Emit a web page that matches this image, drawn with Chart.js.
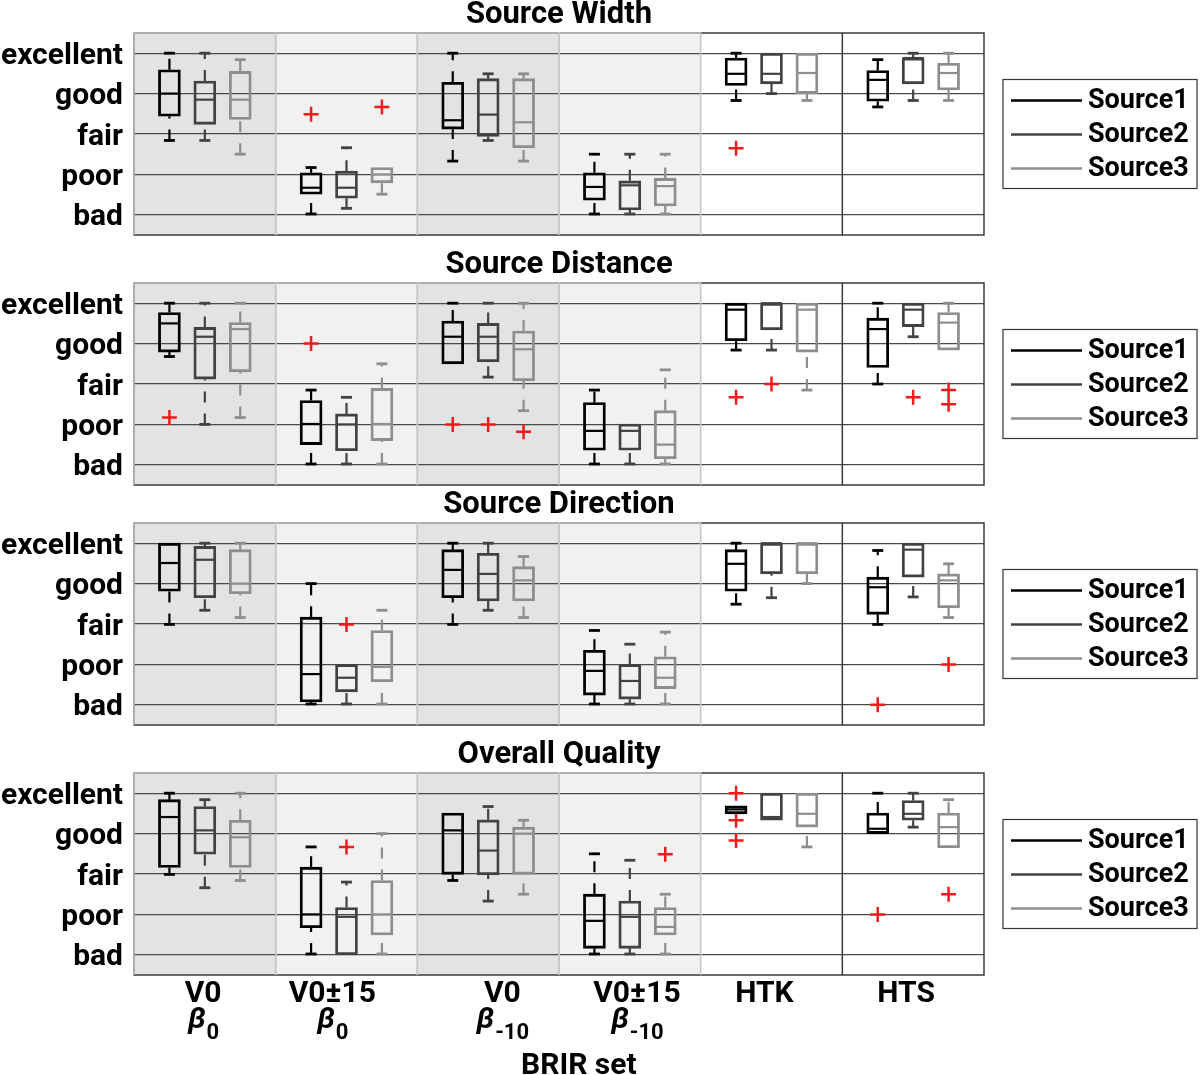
<!DOCTYPE html>
<html>
<head>
<meta charset="utf-8">
<script src="https://cdn.jsdelivr.net/npm/chart.js@4.4.0/dist/chart.umd.min.js"></script>
<style>
  html, body { margin: 0; padding: 0; background: #fff; }
  body { position: relative; width: 1200px; height: 1075px; overflow: hidden; }
  canvas { position: absolute; left: 0; }
</style>
</head>
<body>
<canvas id="c0" width="1200" height="239" style="top:0px"></canvas>
<canvas id="c1" width="1200" height="239" style="top:250px"></canvas>
<canvas id="c2" width="1200" height="239" style="top:490px"></canvas>
<canvas id="c3" width="1200" height="335" style="top:740px"></canvas>
<script>
const ratings = ['bad', 'poor', 'fair', 'good', 'excellent'];
const sources = ['Source1', 'Source2', 'Source3'];
const brirSets = ['V0', 'V0\u00b115', 'V0', 'V0\u00b115', 'HTK', 'HTS'];
const betaSubs = ['0', '0', '-10', '-10', '', ''];
const brirTicks = [1.95, 5.6, 10.4, 14.2, 17.8, 21.8];
const titles = ['Source Width', 'Source Distance', 'Source Direction', 'Overall Quality'];

// each row: [min, q1, median, q3, max] for one BRIR set
const widthS1 = [[2.84, 3.44, 4.0, 4.59, 5.0], [1.02, 1.51, 1.67, 2.04, 2.17], [2.33, 3.12, 3.34, 4.28, 5.0],
                 [1.02, 1.36, 1.69, 2.04, 2.5], [3.83, 4.20, 4.49, 4.88, 5.0], [3.67, 3.81, 4.34, 4.57, 4.84]];
const widthS2 = [[2.84, 3.24, 3.85, 4.31, 5.0], [1.16, 1.41, 1.67, 2.08, 2.66], [2.84, 2.94, 3.48, 4.37, 4.49],
                 [1.02, 1.12, 1.73, 1.84, 2.5], [4.0, 4.24, 4.49, 5.0, 5.0], [3.83, 4.24, 4.88, 4.88, 5.0]];
const widthS3 = [[2.5, 3.36, 3.85, 4.55, 4.84], [1.51, 1.79, 2.0, 2.17, 2.17], [2.33, 2.66, 3.29, 4.37, 4.49],
                 [1.02, 1.22, 1.71, 1.90, 2.5], [3.83, 4.0, 4.51, 5.0, 5.0], [3.83, 4.09, 4.51, 4.75, 5.0]];
// outliers: [BRIR set, source, value]
const widthOut = [[1, 0, 3.49], [1, 2, 3.67], [4, 0, 2.65]];

const distS1 = [[3.68, 3.79, 4.50, 4.77, 5.0], [1.02, 1.50, 2.01, 2.59, 2.85], [3.50, 3.50, 4.17, 4.56, 5.0],
                [1.02, 1.36, 1.84, 2.54, 2.85], [3.84, 4.07, 4.84, 5.0, 5.0], [3.0, 3.41, 4.36, 4.63, 5.0]];
const distS2 = [[2.0, 3.12, 4.17, 4.40, 5.0], [1.02, 1.35, 2.0, 2.26, 2.67], [3.17, 3.55, 4.17, 4.50, 5.0],
                [1.02, 1.36, 1.84, 2.01, 2.01], [3.84, 4.34, 5.0, 5.0, 5.0], [4.17, 4.42, 4.84, 5.0, 5.0]];
const distS3 = [[2.17, 3.30, 4.36, 4.52, 5.0], [1.02, 1.60, 2.01, 2.89, 3.50], [2.34, 3.08, 3.86, 4.31, 5.0],
                [1.02, 1.15, 1.50, 2.34, 3.35], [2.85, 3.79, 4.84, 5.0, 5.0], [3.84, 3.84, 4.52, 4.77, 5.0]];
const distOut = [[0, 0, 2.17], [1, 0, 4.0], [2, 0, 2.0], [2, 1, 2.0], [2, 2, 1.82],
                 [4, 0, 2.67], [4, 1, 3.0], [5, 1, 2.67], [5, 2, 2.85], [5, 2, 2.5]];

const dirS1 = [[2.99, 3.81, 4.51, 5.0, 5.0], [1.02, 1.07, 1.76, 3.17, 4.0], [2.99, 3.65, 4.34, 4.84, 5.0],
               [1.02, 1.24, 1.84, 2.35, 2.84], [3.49, 3.81, 4.49, 4.84, 5.0], [2.99, 3.24, 3.91, 4.16, 4.82]];
const dirS2 = [[3.34, 3.65, 4.59, 4.92, 5.0], [1.02, 1.32, 1.67, 2.0, 2.0], [3.34, 3.57, 4.24, 4.75, 5.0],
               [1.02, 1.14, 1.59, 2.0, 2.5], [3.65, 4.24, 5.0, 5.0, 5.0], [3.67, 4.16, 4.84, 5.0, 5.0]];
const dirS3 = [[3.16, 3.75, 4.0, 4.84, 5.0], [1.02, 1.57, 1.94, 2.84, 3.34], [3.16, 3.57, 4.08, 4.42, 4.67],
               [1.02, 1.40, 1.67, 2.19, 2.80], [4.0, 4.24, 5.0, 5.0, 5.0], [3.16, 3.40, 4.08, 4.24, 4.49]];
const dirOut = [[1, 1, 2.99], [5, 0, 1.0], [5, 2, 2.0]];

const qualS1 = [[2.99, 3.16, 4.41, 4.84, 5.0], [1.02, 1.67, 2.0, 3.17, 3.67], [2.84, 2.99, 4.08, 4.51, 4.51],
                [1.02, 1.16, 1.84, 2.50, 3.50], [4.49, 4.49, 4.6, 4.69, 4.69], [4.0, 4.0, 4.12, 4.51, 5.0]];
const qualS2 = [[2.66, 3.49, 4.08, 4.67, 4.84], [1.0, 1.0, 1.94, 2.17, 2.80], [2.33, 2.98, 3.58, 4.34, 4.67],
                [1.02, 1.16, 1.94, 2.33, 3.34], [4.33, 4.33, 4.41, 5.0, 5.0], [4.16, 4.33, 4.49, 4.82, 5.0]];
const qualS3 = [[2.84, 3.16, 3.91, 4.33, 5.0], [1.02, 1.49, 2.0, 2.84, 4.0], [2.5, 2.99, 4.0, 4.16, 4.33],
                [1.02, 1.49, 1.69, 2.17, 2.5], [3.67, 4.16, 4.49, 5.0, 5.0], [3.65, 3.65, 4.16, 4.51, 4.84]];
const qualOut = [[1, 1, 3.67], [3, 2, 3.49], [4, 0, 5.0], [4, 0, 4.33], [4, 0, 3.83], [5, 0, 2.0], [5, 2, 2.5]];

const srcColors = ['#000000', '#424242', '#8e8e8e'];
const FONT = 'Roboto';

// x position of a box: 4 units per BRIR set, sources at 1,2,3
const boxX = (g, s) => g * 4 + 1 + s;

function boxDatasets(stats, outliers) {
  const sets = [];
  stats.forEach((rows, s) => {
    const col = srcColors[s];
    sets.push({
      type: 'bar', label: sources[s],
      data: rows.map((r, g) => ({ x: boxX(g, s), y: [r[1], r[3]] })),
      backgroundColor: 'rgba(0,0,0,0)', borderColor: col, borderWidth: 2.2,
      borderSkipped: false, barThickness: 22, grouped: false
    });
    // whiskers, drawn from the lower value up (dash phase like the original)
    const w = [];
    const caps = [];
    rows.forEach((r, g) => {
      const x = boxX(g, s);
      if (r[4] > r[3]) { w.push({ x, y: r[3] }, { x, y: r[4] }, { x, y: null }); caps.push({ x, y: r[4] }); }
      if (r[1] > r[0]) { w.push({ x, y: r[0] }, { x, y: r[1] }, { x, y: null }); caps.push({ x, y: r[0] }); }
    });
    sets.push({
      type: 'line', data: w, borderColor: col, borderWidth: 2.2, borderDash: [11, 11],
      pointRadius: 0, spanGaps: false, fill: false
    });
    sets.push({
      type: 'scatter', data: caps, pointStyle: 'line', pointRadius: 5.5,
      borderColor: col, pointBorderColor: col, pointBorderWidth: 2.8
    });
    sets.push({
      type: 'scatter', data: rows.map((r, g) => ({ x: boxX(g, s), y: r[2] })),
      pointStyle: 'line', pointRadius: 10.5, borderColor: col, pointBorderColor: col, pointBorderWidth: 2.2
    });
  });
  sets.push({
    type: 'scatter', data: outliers.map(o => ({ x: boxX(o[0], o[1]), y: o[2] })),
    pointStyle: 'cross', pointRadius: 7.5, borderColor: '#f21b1b', pointBorderColor: '#f21b1b', pointBorderWidth: 2.5
  });
  return sets;
}

const panelBg = {
  id: 'panelBg',
  beforeDraw(chart) {
    const { ctx, chartArea: a, scales: { x } } = chart;
    ctx.save();
    ['#e4e3e3', '#f2f1f1', '#e4e3e3', '#f2f1f1'].forEach((c, g) => {
      const l = x.getPixelForValue(g * 4), r = x.getPixelForValue(g * 4 + 4);
      ctx.fillStyle = c;
      ctx.fillRect(l, a.top, r - l, a.bottom - a.top);
    });
    ctx.restore();
  },
  beforeDatasetsDraw(chart) {
    const { ctx, chartArea: a, scales: { x } } = chart;
    ctx.save();
    ctx.strokeStyle = '#3a3a3a';
    ctx.lineWidth = 1.5;
    ctx.strokeRect(a.left, a.top, a.right - a.left, a.bottom - a.top);
    // light edges of the shaded patches
    ctx.strokeStyle = '#c6c6c6';
    for (let g = 0; g < 4; g++) {
      const l = x.getPixelForValue(g * 4), r = x.getPixelForValue(g * 4 + 4);
      ctx.beginPath();
      ctx.moveTo(l, a.bottom);
      ctx.lineTo(l, a.top);
      ctx.lineTo(r, a.top);
      ctx.lineTo(r, a.bottom);
      ctx.stroke();
    }
    // HTK | HTS separator
    const sx = x.getPixelForValue(20);
    ctx.strokeStyle = '#3a3a3a';
    ctx.beginPath();
    ctx.moveTo(sx, a.top);
    ctx.lineTo(sx, a.bottom);
    ctx.stroke();
    ctx.restore();
  }
};

const legendBox = {
  id: 'legendBox',
  afterDraw(chart) {
    const { ctx, chartArea: a } = chart;
    const w = 194, h = 109;
    const left = a.right + 19, top = (a.top + a.bottom) / 2 - h / 2;
    ctx.save();
    ctx.fillStyle = '#fff';
    ctx.fillRect(left, top, w, h);
    ctx.strokeStyle = '#333';
    ctx.lineWidth = 1.2;
    ctx.strokeRect(left, top, w, h);
    sources.forEach((s, i) => {
      const y = top + 21 + i * 34;
      ctx.strokeStyle = srcColors[i];
      ctx.lineWidth = 2.5;
      ctx.beginPath();
      ctx.moveTo(left + 8, y);
      ctx.lineTo(left + 79, y);
      ctx.stroke();
      ctx.fillStyle = '#000';
      ctx.font = 'bold 27px ' + FONT;
      ctx.textBaseline = 'middle';
      ctx.textAlign = 'left';
      ctx.fillText(s, left + 85, y + 1);
    });
    ctx.restore();
  }
};

const xLabels = {
  id: 'xLabels',
  afterDraw(chart) {
    const { ctx, chartArea: a, scales: { x } } = chart;
    ctx.save();
    ctx.fillStyle = '#000';
    ctx.textBaseline = 'middle';
    brirSets.forEach((t, i) => {
      const cx = x.getPixelForValue(brirTicks[i]);
      ctx.font = 'bold 30px ' + FONT;
      ctx.textAlign = 'center';
      ctx.fillText(t, cx, a.bottom + 19);
      if (betaSubs[i]) {
        ctx.font = 'italic bold 30px ' + FONT;
        const bw = ctx.measureText('\u03b2').width;
        ctx.font = 'bold 22px ' + FONT;
        const sw = ctx.measureText(betaSubs[i]).width;
        const x0 = cx - (bw + sw) / 2;
        ctx.textAlign = 'left';
        ctx.font = 'italic bold 30px ' + FONT;
        ctx.fillText('\u03b2', x0, a.bottom + 45);
        ctx.font = 'bold 22px ' + FONT;
        ctx.fillText(betaSubs[i], x0 + bw + 1, a.bottom + 58);
      }
    });
    ctx.font = 'bold 30px ' + FONT;
    ctx.textAlign = 'center';
    ctx.fillText('BRIR set', x.getPixelForValue(12.56), a.bottom + 91);
    ctx.restore();
  }
};

function makeChart(id, title, stats, outliers, isLast) {
  new Chart(document.getElementById(id), {
    type: 'bar',
    data: { datasets: boxDatasets(stats, outliers) },
    options: {
      responsive: false,
      animation: false,
      events: [],
      layout: { autoPadding: false, padding: { left: 0, right: 216, top: 0, bottom: isLast ? 100 : 4 } },
      scales: {
        x: { type: 'linear', min: 0, max: 24, display: false, offset: false },
        y: {
          min: 0.5, max: 5.5,
          afterBuildTicks: s => { s.ticks = [1, 2, 3, 4, 5].map(v => ({ value: v })); },
          afterFit: s => { s.width = 134; s.paddingTop = 0; s.paddingBottom = 0; },
          ticks: {
            callback: v => ratings[v - 1],
            color: '#000',
            font: { family: FONT, weight: 'bold', size: 30 },
            padding: 11,
            labelOffset: 3
          },
          grid: { color: '#4a4a4a', lineWidth: 1.2, drawTicks: false },
          border: { display: false }
        }
      },
      plugins: {
        legend: { display: false },
        tooltip: { enabled: false },
        title: {
          display: true, text: title, fullSize: false, color: '#000',
          font: { family: FONT, weight: 'bold', size: 31, lineHeight: 1 },
          padding: { top: 0, bottom: 2 }
        }
      }
    },
    plugins: isLast ? [panelBg, legendBox, xLabels] : [panelBg, legendBox]
  });
}

makeChart('c0', titles[0], [widthS1, widthS2, widthS3], widthOut, false);
makeChart('c1', titles[1], [distS1, distS2, distS3], distOut, false);
makeChart('c2', titles[2], [dirS1, dirS2, dirS3], dirOut, false);
makeChart('c3', titles[3], [qualS1, qualS2, qualS3], qualOut, true);
</script>
</body>
</html>
